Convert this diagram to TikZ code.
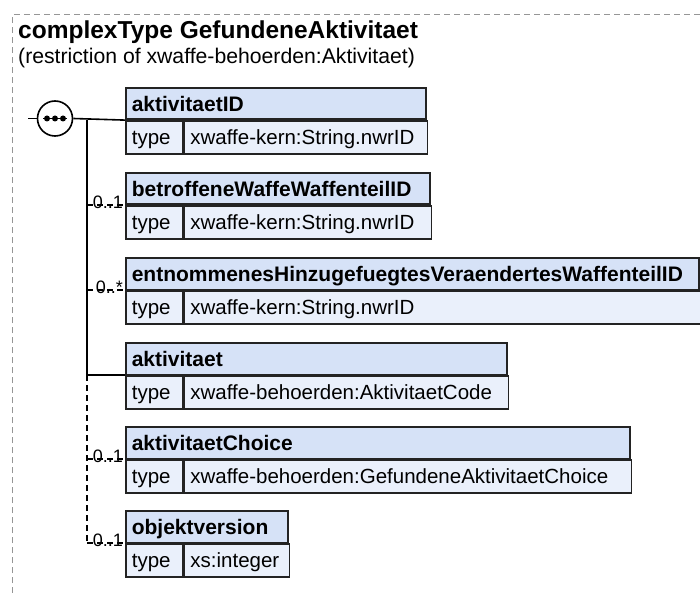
\documentclass[tikz,border=0pt]{standalone}
\usepackage{fontspec}
\setmainfont{Liberation Sans}
\definecolor{hdrfill}{RGB}{214,226,247}
\definecolor{bodyfill}{RGB}{234,240,251}
\definecolor{bord}{RGB}{35,35,35}
\definecolor{framegray}{RGB}{150,150,150}
\tikzset{
  hdr/.style={draw=bord, fill=hdrfill, line width=1.6pt, anchor=north west,
    minimum height=31.5pt, inner xsep=6pt, inner ysep=0pt, text height=18pt, text depth=3pt,
    align=left, font=\bfseries\fontsize{21}{25}\selectfont},
  tcell/.style={draw=bord, fill=bodyfill, line width=1.6pt, anchor=north west,
    minimum height=33pt, inner xsep=6pt, inner ysep=0pt, text height=18pt, text depth=3pt,
    text width=45pt, align=left, font=\fontsize{20.5}{24}\selectfont},
  vcell/.style={tcell},
  conn/.style={draw=black, line width=1.6pt},
  opt/.style={conn, dash pattern=on 6pt off 4pt},
  mult/.style={anchor=base east, inner sep=0pt, font=\fontsize{18}{20}\selectfont},
  framestyle/.style={draw=framegray, line width=1pt, dash pattern=on 6pt off 4pt},
  seqc/.style={draw=black, fill=white, circle, line width=1.6pt, minimum size=35pt, inner sep=0pt}
}
\newcommand{\xsdelem}[5]{%
  \pgfmathsetmacro{\xhw}{#3-125-12}%
  \pgfmathsetmacro{\xvw}{#3-182-12}%
  \node[hdr, text width=\xhw pt] (#1h) at (125,#2) {#4};
  \node[tcell] (#1t) at (#1h.south west) {type};
  \node[vcell, text width=\xvw pt] (#1v) at (#1t.north east) {#5};
}
\begin{document}
\begin{tikzpicture}[x=1pt,y=-1pt]
\useasboundingbox (0,0) rectangle (700,593);
\draw[framestyle] (12,593) -- (12,15) -- (700,15);
\node[anchor=base west, inner sep=0pt, font=\bfseries\fontsize{24.5}{28}\selectfont] (title) at (18,39) {complexType GefundeneAktivitaet};
\node[anchor=base west, inner sep=0pt, font=\fontsize{21.2}{25}\selectfont] (subtitle) at (18,64) {(restriction of xwaffe-behoerden:Aktivitaet)};

\xsdelem{a}{87}{425}{aktivitaetID}{xwaffe-kern:String.nwrID}
\xsdelem{b}{172}{429}{betroffeneWaffeWaffenteilID}{xwaffe-kern:String.nwrID}
\xsdelem{c}{257}{698}{entnommenesHinzugefuegtesVeraendertesWaffenteilID}{xwaffe-kern:String.nwrID}
\xsdelem{d}{342}{506}{aktivitaet}{xwaffe-behoerden:AktivitaetCode}
\xsdelem{e}{426}{629}{aktivitaetChoice}{xwaffe-behoerden:GefundeneAktivitaetChoice}
\xsdelem{f}{510}{287}{objektversion}{xs:integer}

\coordinate (tx) at (87,0);
\coordinate (in) at (28,118.5);
\node[seqc] (seq) at (55,118.5) {};
\draw[line width=1.4pt] ([xshift=-12pt]seq.center) -- ([xshift=12pt]seq.center);
\foreach \dx in {-8,0,8} \fill ([xshift=\dx pt]seq.center) circle (3pt);
\draw[conn] (in) -- (seq.west);
\draw[conn] (seq.east) -- (ah.south west);
\draw[conn] (ah.south west -| tx) -- (dh.south west -| tx);
\draw[opt] (dh.south west -| tx) -- (fh.south west -| tx);
\draw[opt] (bh.south west -| tx) -- (bh.south west);
\draw[opt] (ch.south west -| tx) -- (ch.south west);
\draw[conn] (dh.south west -| tx) -- (dh.south west);
\draw[opt] (eh.south west -| tx) -- (eh.south west);
\draw[opt] (fh.south west -| tx) -- (fh.south west);

\node[mult] (mb) at ([xshift=-2pt,yshift=-3.5pt]bh.south west) {0..1};
\node[mult] (mc) at ([xshift=-2pt,yshift=-3.5pt]ch.south west) {0..*};
\node[mult] (me) at ([xshift=-2pt,yshift=-3.5pt]eh.south west) {0..1};
\node[mult] (mf) at ([xshift=-2pt,yshift=-3.5pt]fh.south west) {0..1};
\end{tikzpicture}
\end{document}
